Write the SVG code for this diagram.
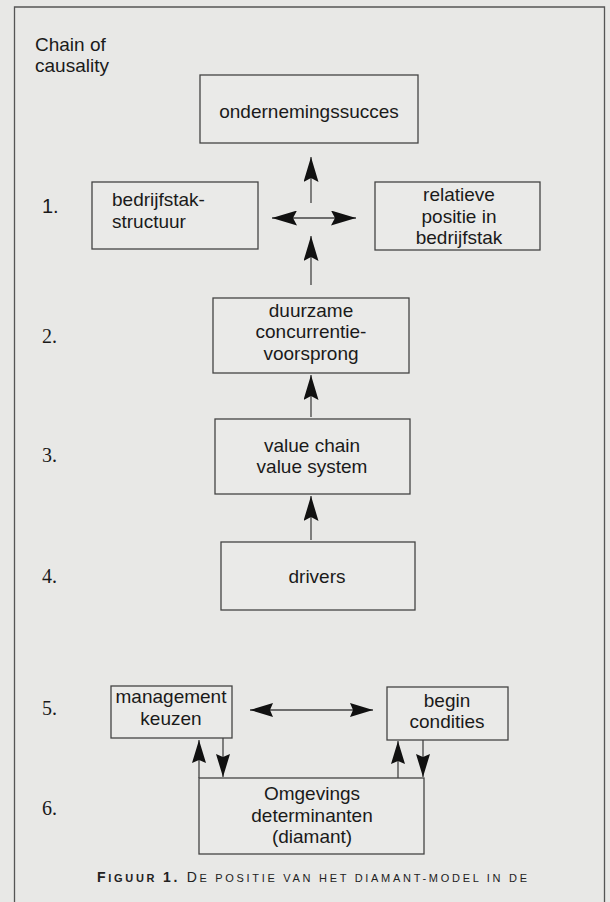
<svg xmlns="http://www.w3.org/2000/svg" width="610" height="902" viewBox="0 0 610 902">
<style>
.bg{fill:#e8e8e6}
.frame{fill:none;stroke:#555;stroke-width:1.3}
.box{fill:#eaeae8;stroke:#444;stroke-width:1.3}
.t{font-family:"Liberation Sans",Arial,sans-serif;font-size:19px;fill:#1a1a1a}
.c{text-anchor:middle}
.num{font-family:"Liberation Serif","Times New Roman",serif;font-size:20px;fill:#1a1a1a}
.line{fill:none;stroke:#444;stroke-width:1.3}
.cap{font-family:"Liberation Sans",Arial,sans-serif;fill:#222}
</style>
<defs>
<marker id="ah" markerUnits="userSpaceOnUse" viewBox="0 0 25 15" refX="25" refY="7.5" markerWidth="25" markerHeight="15" orient="auto-start-reverse">
<path d="M0,0 L25,7.5 L0,15 L4,7.5 z" fill="#111"/>
</marker>
<marker id="as" markerUnits="userSpaceOnUse" viewBox="0 0 23 14" refX="23" refY="7" markerWidth="23" markerHeight="14" orient="auto-start-reverse">
<path d="M0,0 L23,7 L0,14 L3,7 z" fill="#111"/>
</marker>
</defs>
<rect class="bg" x="0" y="0" width="610" height="902"/>
<path class="frame" d="M14.5,910 V7 H604.5 V910"/>
<g id="title">
<text class="t" x="35" y="51">Chain of</text>
<text class="t" x="35" y="72">causality</text>
</g>
<g id="labels">
<text class="t" x="42" y="213" style="font-size:20px">1.</text>
<text class="num" x="42" y="343">2.</text>
<text class="num" x="42" y="462">3.</text>
<text class="num" x="42" y="583">4.</text>
<text class="num" x="42" y="715">5.</text>
<text class="num" x="42" y="815">6.</text>
</g>
<g id="ondernemingssucces">
<rect class="box" x="200" y="75" width="218" height="68"/>
<text class="t c" x="309" y="118">ondernemingssucces</text>
</g>
<g id="bedrijfstakstructuur">
<rect class="box" x="92" y="182" width="166" height="67"/>
<text class="t" x="112" y="206">bedrijfstak-</text>
<text class="t" x="112" y="228">structuur</text>
</g>
<g id="relatievepositie">
<rect class="box" x="375" y="182" width="165" height="68"/>
<text class="t c" x="459" y="201">relatieve</text>
<text class="t c" x="459" y="223">positie in</text>
<text class="t c" x="459" y="244">bedrijfstak</text>
</g>
<g id="duurzame">
<rect class="box" x="213" y="298" width="196" height="75"/>
<text class="t c" x="311" y="317">duurzame</text>
<text class="t c" x="311" y="338">concurrentie-</text>
<text class="t c" x="311" y="360">voorsprong</text>
</g>
<g id="valuechain">
<rect class="box" x="215" y="419" width="195" height="75"/>
<text class="t c" x="312" y="452">value chain</text>
<text class="t c" x="312" y="473">value system</text>
</g>
<g id="drivers">
<rect class="box" x="221" y="542" width="194" height="68"/>
<text class="t c" x="317" y="583">drivers</text>
</g>
<g id="management">
<rect class="box" x="111" y="686" width="121" height="52"/>
<text class="t c" x="171" y="703">management</text>
<text class="t c" x="171" y="725">keuzen</text>
</g>
<g id="begincondities">
<rect class="box" x="387" y="687" width="121" height="53"/>
<text class="t c" x="447" y="707">begin</text>
<text class="t c" x="447" y="728">condities</text>
</g>
<g id="omgevings">
<rect class="box" x="199" y="778" width="225" height="76"/>
<text class="t c" x="312" y="800">Omgevings</text>
<text class="t c" x="312" y="822">determinanten</text>
<text class="t c" x="312" y="843">(diamant)</text>
</g>
<g id="connectors">
<line class="line" x1="311" y1="203" x2="311" y2="157" marker-end="url(#ah)"/>
<line class="line" x1="272" y1="218" x2="356" y2="218" marker-start="url(#ah)" marker-end="url(#ah)"/>
<line class="line" x1="311" y1="285" x2="311" y2="236" marker-end="url(#ah)"/>
<line class="line" x1="311" y1="417" x2="311" y2="375" marker-end="url(#ah)"/>
<line class="line" x1="311" y1="540" x2="311" y2="496" marker-end="url(#ah)"/>
<line class="line" x1="250" y1="710" x2="373" y2="710" marker-start="url(#as)" marker-end="url(#as)"/>
<line class="line" x1="199" y1="778" x2="199" y2="740" marker-end="url(#as)"/>
<line class="line" x1="223" y1="738" x2="223" y2="777" marker-end="url(#as)"/>
<line class="line" x1="398" y1="778" x2="398" y2="741" marker-end="url(#as)"/>
<line class="line" x1="423" y1="740" x2="423" y2="777" marker-end="url(#as)"/>
</g>
<g id="caption">
<text class="cap" x="97" y="882" textLength="430" lengthAdjust="spacing"><tspan font-weight="bold" font-size="14">F</tspan><tspan font-weight="bold" font-size="11">IGUUR </tspan><tspan font-weight="bold" font-size="14">1.</tspan><tspan font-size="14"> D</tspan><tspan font-size="11">E POSITIE VAN HET DIAMANT-MODEL IN DE</tspan></text>
</g>
</svg>
